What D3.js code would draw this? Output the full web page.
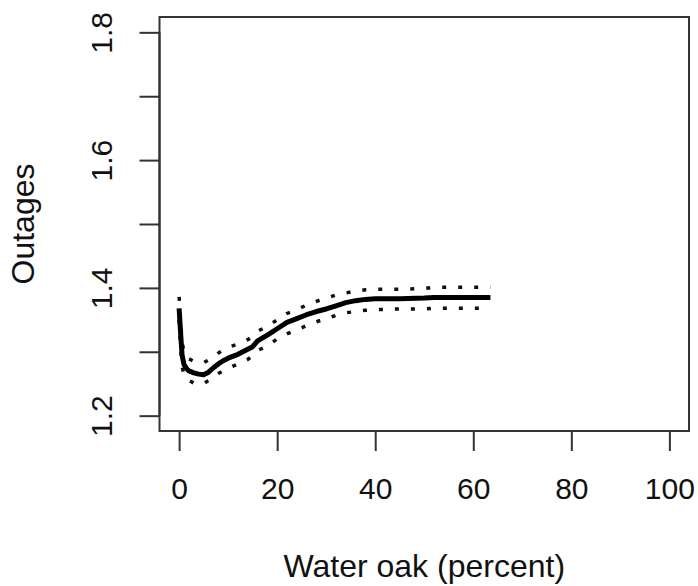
<!DOCTYPE html>
<html>
<head>
<meta charset="utf-8">
<script src="https://cdn.jsdelivr.net/npm/d3@7"></script>
<style>
  body { margin: 0; background: #fff; }
  text { font-family: "Liberation Sans", Arial, sans-serif; fill: #111; }
</style>
</head>
<body>
<div id="chart"></div>
<script>
// water oak share (percent) and fitted outages with +/- bands
var waterOak = [0, 0.3, 0.6, 1, 1.5, 2, 3, 4, 5, 6, 7, 8, 9, 10, 12, 14, 15, 16, 18, 20, 22, 24, 26, 28, 30, 32, 34, 36, 38, 40, 45, 50, 52, 55, 60, 63.5]
var fitted = [1.368, 1.33, 1.295, 1.280, 1.274, 1.270, 1.267, 1.265, 1.264, 1.268, 1.275, 1.281, 1.286, 1.290, 1.296, 1.304, 1.308, 1.317, 1.326, 1.336, 1.346, 1.352, 1.358, 1.363, 1.367, 1.372, 1.377, 1.380, 1.382, 1.383, 1.383, 1.384, 1.385, 1.385, 1.385, 1.385]
var upper = [1.386, 1.35, 1.315, 1.300, 1.294, 1.289, 1.285, 1.283, 1.283, 1.287, 1.292, 1.298, 1.303, 1.307, 1.312, 1.319, 1.324, 1.332, 1.340, 1.350, 1.360, 1.366, 1.373, 1.379, 1.384, 1.389, 1.392, 1.395, 1.397, 1.398, 1.398, 1.399, 1.401, 1.401, 1.401, 1.401]
var lower = [1.350, 1.31, 1.277, 1.264, 1.259, 1.255, 1.251, 1.249, 1.250, 1.255, 1.261, 1.266, 1.270, 1.274, 1.281, 1.288, 1.294, 1.302, 1.309, 1.320, 1.328, 1.334, 1.341, 1.347, 1.352, 1.357, 1.361, 1.363, 1.365, 1.366, 1.367, 1.367, 1.368, 1.368, 1.368, 1.368]

var xTicks = [0, 20, 40, 60, 80, 100]
var yTicks = [1.2, 1.3, 1.4, 1.5, 1.6, 1.7, 1.8]
var yTickLabels = ["1.2", "", "1.4", "", "1.6", "", "1.8"]
var xTitle = "Water oak (percent)"
var yTitle = "Outages"

var width = 698, height = 586
var box = {left: 159.5, right: 689, top: 17, bottom: 431}
var axisColor = "#333"
var tickFont = 30, titleFont = 32

var svg = d3.select("#chart")
    .append("svg")
    .attr("width", width)
    .attr("height", height)

// R style: 4% padding around the data range
var x = d3.scaleLinear().domain([-4, 104]).range([box.left, box.right])
var y = d3.scaleLinear().domain([1.176, 1.824]).range([box.bottom, box.top])

svg.append("rect")
    .attr("x", box.left).attr("y", box.top)
    .attr("width", box.right - box.left)
    .attr("height", box.bottom - box.top)
    .style("fill", "none")
    .style("stroke", axisColor).style("stroke-width", 2)

// axes
var xAxis = svg.append("g")
    .attr("transform", "translate(0," + box.bottom + ")")
    .call(d3.axisBottom(x).tickValues(xTicks).tickSize(20).tickSizeOuter(0))
xAxis.select(".domain").attr("d", "M" + x(0) + ",0H" + x(100))
    .style("stroke", axisColor).style("stroke-width", 2)
xAxis.selectAll(".tick line").style("stroke", axisColor).style("stroke-width", 2)
xAxis.selectAll(".tick text")
    .attr("dy", null).attr("y", 68)
    .style("font-size", tickFont + "px").style("font-family", "Liberation Sans, Arial, sans-serif")
    .style("fill", "#111")

var yAxis = svg.append("g")
    .attr("transform", "translate(" + box.left + ",0)")
    .call(d3.axisLeft(y).tickValues(yTicks).tickSize(20).tickSizeOuter(0)
        .tickFormat(function(d, i) { return yTickLabels[i] }))
yAxis.select(".domain").attr("d", "M0," + y(1.2) + "V" + y(1.8))
    .style("stroke", axisColor).style("stroke-width", 2)
yAxis.selectAll(".tick line").style("stroke", axisColor).style("stroke-width", 2)
yAxis.selectAll(".tick text")
    .attr("x", null).attr("dy", null)
    .attr("text-anchor", "middle")
    .attr("transform", "translate(-48,0) rotate(-90)")
    .style("font-size", tickFont + "px").style("font-family", "Liberation Sans, Arial, sans-serif")
    .style("fill", "#111")

// titles
svg.append("text")
    .attr("x", (box.left + box.right) / 2)
    .attr("y", 577)
    .attr("text-anchor", "middle")
    .style("font-size", titleFont + "px")
    .text(xTitle)

svg.append("text")
    .attr("transform", "translate(34," + (box.top + box.bottom) / 2 + ") rotate(-90)")
    .attr("text-anchor", "middle")
    .style("font-size", titleFont + "px")
    .text(yTitle)

// curves
var fitLine = d3.line()
    .x(function(d, i) { return x(waterOak[i]) })
    .y(function(d) { return y(d) })

svg.append("path")
    .attr("d", fitLine(upper))
    .style("fill", "none").style("stroke", "#111")
    .style("stroke-width", 3.5).style("stroke-dasharray", "4,12")

svg.append("path")
    .attr("d", fitLine(lower))
    .style("fill", "none").style("stroke", "#111")
    .style("stroke-width", 3.5).style("stroke-dasharray", "4,12")

svg.append("path")
    .attr("d", fitLine(fitted))
    .style("fill", "none").style("stroke", "#000")
    .style("stroke-width", 5).style("stroke-linejoin", "round")
</script>
</body>
</html>
